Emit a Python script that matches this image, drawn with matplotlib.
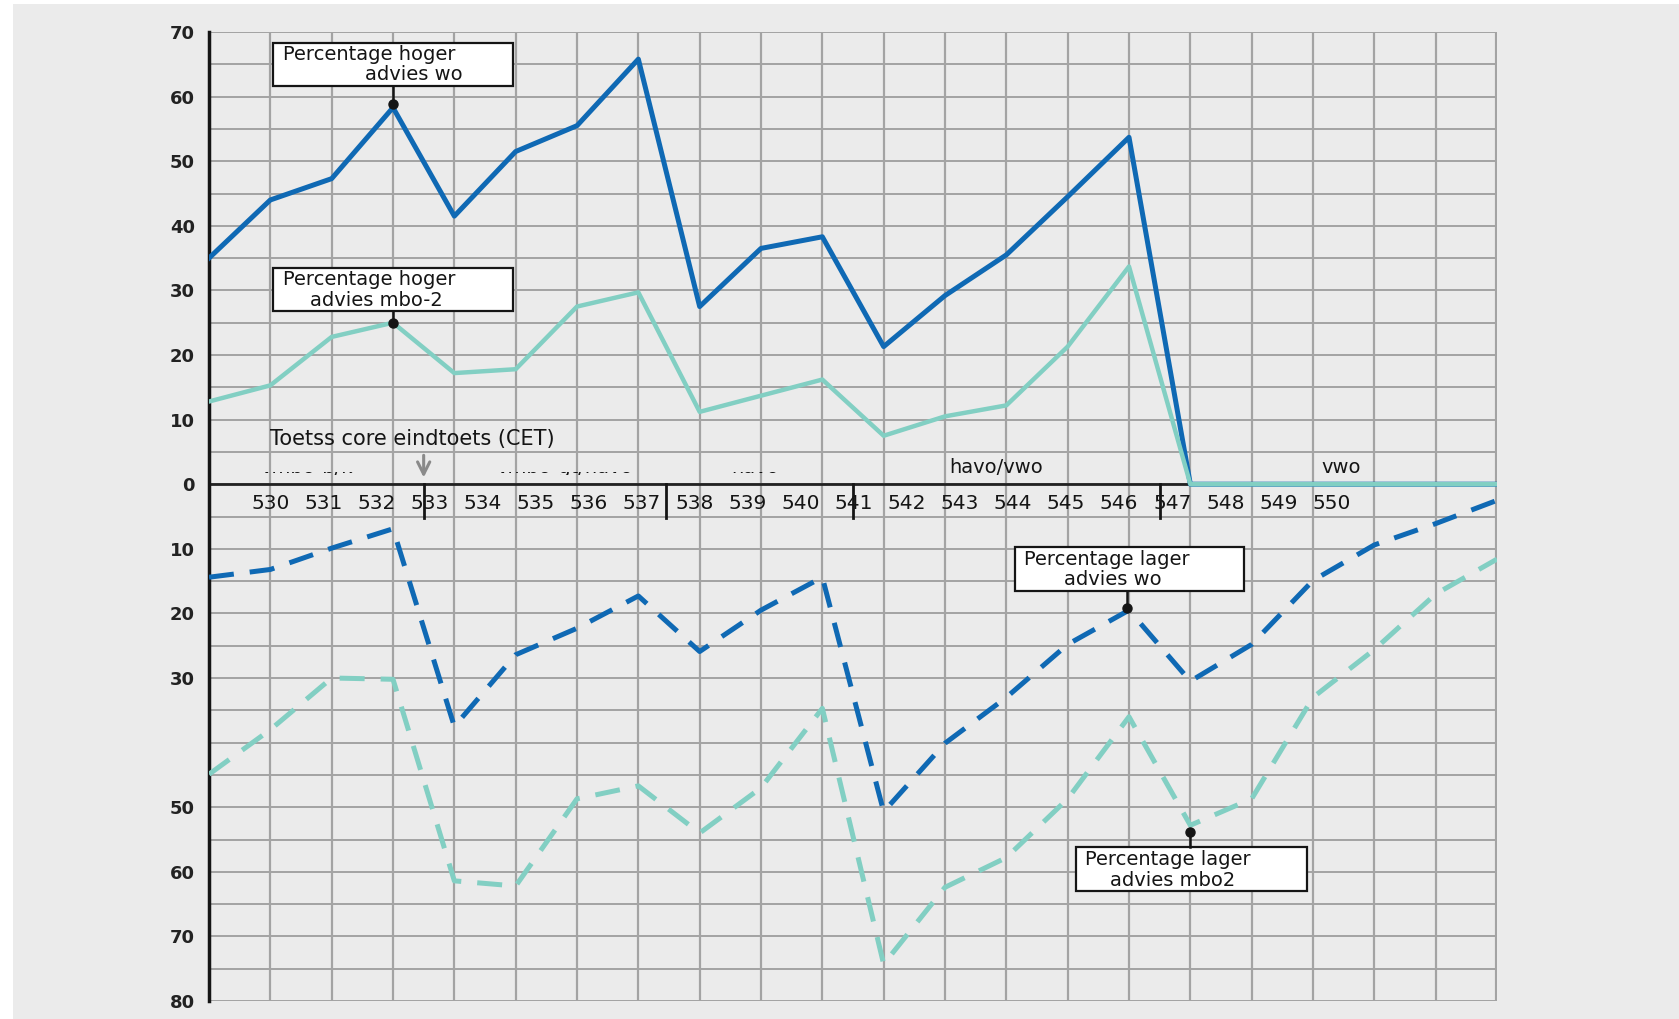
import numpy as np
import matplotlib
matplotlib.use("Agg")
import matplotlib.pyplot as plt
from matplotlib.patches import Rectangle
from matplotlib.transforms import Bbox, TransformedBbox

# ---------------- data ----------------
categories = ["530", "531", "532", "533", "534", "535", "536", "537", "538", "539", "540",
              "541", "542", "543", "544", "545", "546", "547", "548", "549", "550"]
hoger_wo = [35, 44, 47.3, 58.3, 41.5, 51.5, 55.5, 65.8, 27.5, 36.5, 38.3,
            21.3, 29.2, 35.5, 44.5, 53.7, 0, 0, 0, 0, 0, 0]
hoger_mbo2 = [12.8, 15.3, 22.8, 25, 17.2, 17.8, 27.5, 29.7, 11.2, 13.7, 16.2,
              7.5, 10.5, 12.2, 21.3, 33.7, 0, 0, 0, 0, 0, 0]
lager_wo = [14.4, 13.2, 9.9, 6.9, 37.5, 26.4, 22.3, 17.3, 25.9, 19.5, 14.4,
            50.7, 40.1, 33.0, 24.8, 19.5, 30.5, 24.8, 14.9, 9.4, 6.1, 2.5]
lager_mbo2 = [44.9, 38.0, 30.0, 30.2, 61.4, 62.2, 48.7, 46.7, 54.0, 47.0, 34.7,
              74.3, 62.4, 57.8, 48.7, 36.0, 52.8, 48.7, 33.0, 25.6, 17.0, 11.6]
upper_ticks = [0, 10, 20, 30, 40, 50, 60, 70]
lower_ticks = [10, 20, 30, 50, 60, 70, 80]
group_labels = ["vmbo-b/k", "vmbo-gt/havo", "havo", "havo/vwo", "vwo"]
group_visible = [False, False, False, True, True]
group_boundaries = [3.5, 7.45, 10.5, 15.5]

BLUE = "#0f69b4"
TEAL = "#82cfc3"
BG = "#ebebeb"
GRID = "#a3a3a3"
INK = "#151515"

W, H = 1679, 1019
fig = plt.figure(figsize=(W / 100, H / 100), dpi=100, facecolor="white")
fig.patches.append(Rectangle((13 / W, 0), 1, 1 - 4 / H, transform=fig.transFigure,
                             facecolor=BG, edgecolor="none", zorder=-10))

ax = fig.add_axes([209 / W, 1 - 1001 / H, (1497 - 209) / W, (1001 - 32) / H])
ax.set_facecolor(BG)

x = np.arange(len(hoger_wo))
ax.set_xlim(0, len(hoger_wo) - 1)
ax.set_ylim(-80, 70)

# grid
for xv in x:
    ax.axvline(xv, color=GRID, lw=1.6, zorder=0)
for yv in np.arange(-80, 71, 5):
    ax.axhline(yv, color=GRID, lw=1.4, zorder=0)
ax.axvline(x[-1], color=GRID, lw=3, zorder=0)

for s in ["top", "right", "bottom"]:
    ax.spines[s].set_visible(False)
ax.spines["left"].set_linewidth(2.5)
ax.spines["left"].set_color(INK)
ax.axhline(0, color="#222222", lw=2, zorder=1)

# y tick labels
yt = upper_ticks + [-v for v in lower_ticks]
ylabels = [str(v) for v in upper_ticks] + [str(v) for v in lower_ticks]
ax.set_yticks(yt)
ax.set_yticklabels(ylabels, fontsize=13, color="#222222", fontweight="bold")
ax.tick_params(axis="y", length=0, pad=10)
ax.set_xticks([])

# lines
ax.plot(x, hoger_wo, color=BLUE, lw=3.6, zorder=3)
ax.plot(x, hoger_mbo2, color=TEAL, lw=3.2, zorder=4)
ax.plot(x, [-v for v in lager_wo], color=BLUE, lw=3.6, zorder=3, dashes=(5, 3.2))
ax.plot(x, [-v for v in lager_mbo2], color=TEAL, lw=3.6, zorder=3, dashes=(5, 3.2))

# category labels below the zero line
label_pos = np.linspace(1.0, 18.3, len(categories))
for p, c in zip(label_pos, categories):
    ax.text(p, -3.0, c, ha="center", va="center", fontsize=14.5, color=INK, zorder=5)

# group separator ticks
for b in group_boundaries:
    ax.plot([b, b], [0, -5.2], color=INK, lw=2, zorder=5)

# group labels (the first three are only partly visible in the original)
group_pos = [1.6, 5.8, 8.9, 12.83, 18.46]
for gp, gl, vis in zip(group_pos, group_labels, group_visible):
    t = ax.text(gp, 1.8, gl, ha="center", va="baseline", fontsize=14, color=INK, zorder=5)
    if not vis:
        bb = TransformedBbox(Bbox([[gp - 3, 1.45], [gp + 3, 1.95]]), ax.transData)
        t.set_clip_box(bb)
        t.set_clip_on(True)

# CET annotation
ax.text(1.0, 7.0, "Toetss core eindtoets (CET)", ha="left", va="center", fontsize=15,
        color=INK, zorder=5)
ax.annotate("", xy=(3.5, 0.6), xytext=(3.5, 4.9),
            arrowprops=dict(arrowstyle="->", color="#8a8a8a", lw=2.2, mutation_scale=22),
            zorder=5)

# callout boxes
def callout(x0, x1, y0, y1, line1, line2, dot, attach_y, indent):
    ax.add_patch(Rectangle((x0, y0), x1 - x0, y1 - y0, facecolor="white",
                           edgecolor=INK, lw=1.6, zorder=6))
    ybot = min(y0, y1)
    h = abs(y1 - y0)
    ax.text(x0 + 0.15, ybot + 0.72 * h, line1, ha="left", va="center", fontsize=14,
            color=INK, zorder=7)
    ax.text(x0 + indent, ybot + 0.25 * h, line2, ha="left", va="center", fontsize=14,
            color=INK, zorder=7)
    ax.plot([dot[0], dot[0]], [attach_y, dot[1]], color=INK, lw=1.8, zorder=6)
    ax.plot([dot[0]], [dot[1]], "o", color=INK, ms=6.5, zorder=7)

callout(1.05, 4.95, 61.7, 68.3, "Percentage hoger", "advies wo", (3.0, 58.8), 61.7, 1.5)
callout(1.05, 4.95, 26.8, 33.5, "Percentage hoger", "advies mbo-2", (3.0, 25.0), 26.8, 0.6)
callout(13.14, 16.88, -16.5, -9.7, "Percentage lager", "advies wo", (14.97, -19.1), -16.5, 0.8)
callout(14.14, 17.9, -63.0, -56.1, "Percentage lager", "advies mbo2", (16.0, -53.8), -56.1, 0.55)

fig.savefig("out.png", dpi=100, facecolor="white")
